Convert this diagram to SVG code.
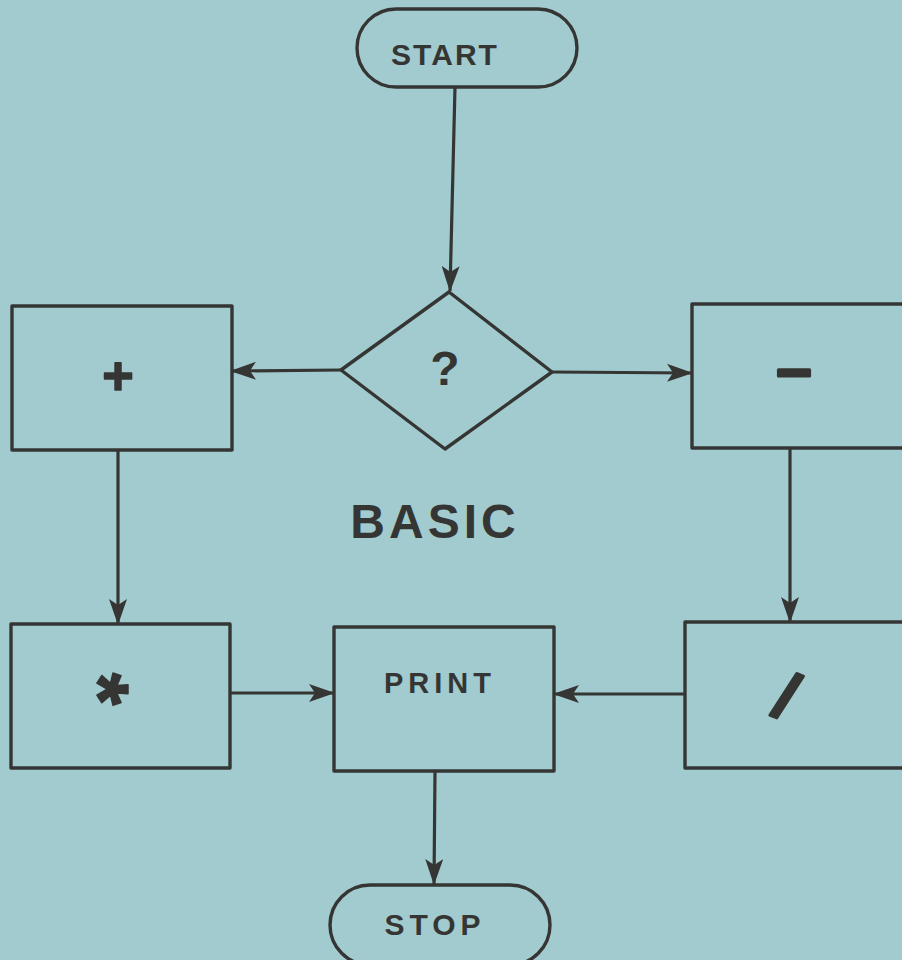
<svg xmlns="http://www.w3.org/2000/svg" width="902" height="960" viewBox="0 0 902 960">
  <style>
    .shape { fill: none; stroke: #353634; stroke-width: 3.4; stroke-linejoin: round; }
    .link { fill: none; stroke: #353634; stroke-width: 3.2; }
    .label { font-family: "Liberation Sans", Arial, sans-serif; font-weight: bold; fill: #353634; text-anchor: middle; }
    .symbol { stroke: #353634; stroke-linejoin: round; }
  </style>
  <defs>
    <marker id="arrow" viewBox="0 0 26 18" refX="25" refY="9" markerWidth="26" markerHeight="18" markerUnits="userSpaceOnUse" orient="auto">
      <path d="M0,0 L26,9 L0,18 L6,9 Z" fill="#353634"/>
    </marker>
  </defs>

  <rect width="902" height="960" fill="#a2cbcf"/>

  <g id="connectors">
    <path class="link" d="M455,87 L450,291" marker-end="url(#arrow)"/>
    <path class="link" d="M341,370 L231,371" marker-end="url(#arrow)"/>
    <path class="link" d="M552,372 L692,373" marker-end="url(#arrow)"/>
    <path class="link" d="M118,450 L118,624" marker-end="url(#arrow)"/>
    <path class="link" d="M790,448 L790,622" marker-end="url(#arrow)"/>
    <path class="link" d="M230,693 L334,693" marker-end="url(#arrow)"/>
    <path class="link" d="M685,694 L554,694" marker-end="url(#arrow)"/>
    <path class="link" d="M435,771 L434,884" marker-end="url(#arrow)"/>
  </g>

  <g id="start">
    <rect class="shape" x="357" y="9" width="220" height="78" rx="39"/>
    <text class="label" x="445" y="65" font-size="30" letter-spacing="2">START</text>
  </g>

  <g id="decision">
    <path class="shape" d="M449,292 L552,372 L445,449 L341,370 Z"/>
    <text class="label" x="445" y="385" font-size="48">?</text>
  </g>

  <g id="add">
    <rect class="shape" x="12" y="306" width="220" height="144"/>
    <text class="label symbol" x="118" y="394" font-size="54" stroke-width="1.5">+</text>
  </g>

  <g id="subtract">
    <rect class="shape" x="692" y="304" width="214" height="144"/>
    <text class="label symbol" x="794" y="390" font-size="63" stroke-width="3">–</text>
  </g>

  <g id="title">
    <text class="label" x="435" y="538" font-size="48" letter-spacing="4">BASIC</text>
  </g>

  <g id="multiply">
    <rect class="shape" x="11" y="624" width="219" height="144"/>
    <g transform="translate(7 -1)">
      <text class="label symbol" x="110" y="690" font-size="84" stroke-width="1.5" font-family="DejaVu Sans, sans-serif" transform="rotate(90 110 690)" dy="0.56em">*</text>
    </g>
  </g>

  <g id="print">
    <rect class="shape" x="334" y="627" width="220" height="144"/>
    <text class="label" x="440" y="693" font-size="29" letter-spacing="5">PRINT</text>
  </g>

  <g id="divide">
    <rect class="shape" x="685" y="622" width="220" height="146"/>
    <text class="label symbol" x="787" y="719" font-size="66" stroke-width="2.5" transform="rotate(22 787 695)">/</text>
  </g>

  <g id="stop">
    <rect class="shape" x="330" y="885" width="220" height="80" rx="40"/>
    <text class="label" x="435" y="935" font-size="30" letter-spacing="5">STOP</text>
  </g>
</svg>
